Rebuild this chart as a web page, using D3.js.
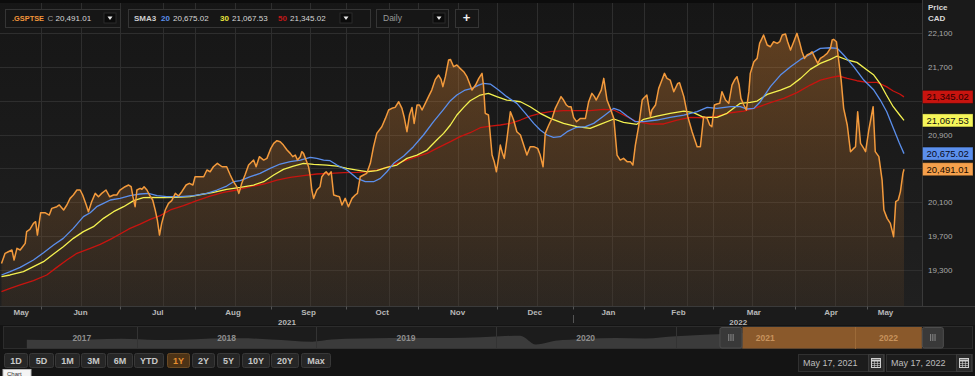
<!DOCTYPE html>
<html><head><meta charset="utf-8">
<script src="https://cdn.jsdelivr.net/npm/d3@7"></script>
<style>html,body{margin:0;padding:0;background:#000;overflow:hidden}svg{display:block;font-family:Arial,"Liberation Sans",sans-serif}</style>
</head><body><svg id="c" width="975" height="376"></svg>
<script>
// ---- DATA (x = trading-day index from May 14, 2021) ----
const closeSeries = [[0,19378],[1.0,19497],[1.9,19516],[2.9,19536],[3.5,19418],[4.3,19556],[5.2,19536],[5.9,19575],[6.6,19615],[7.0,19753],[7.9,19780],[8.9,19851],[9.5,19871],[10.0,19713],[10.9,19977],[12.1,19977],[13.3,19949],[14.0,20028],[15.4,20048],[16.1,20068],[17.3,20009],[18.2,20068],[19.1,20146],[20.0,20186],[21.0,20245],[21.9,20245],[22.6,20186],[23.6,20068],[24.2,19989],[25.1,20107],[26.1,20205],[27.0,20166],[27.9,20205],[29.1,20245],[30.1,20166],[31.2,20186],[32.1,20186],[33.0,20245],[34.4,20284],[35.4,20304],[36.1,20284],[36.6,20166],[37.2,20048],[37.7,20245],[38.6,20265],[39.1,20253],[39.7,20284],[40.5,20245],[41.2,20186],[42.1,20127],[42.8,20009],[43.4,19890],[44.0,19713],[44.6,19851],[45.6,20009],[46.5,20087],[47.4,20119],[48.4,20205],[49.3,20174],[50.2,20225],[51.4,20304],[52.3,20324],[53.3,20304],[53.9,20402],[55.1,20402],[56.3,20402],[57.2,20481],[58.1,20461],[59.0,20520],[60.1,20560],[61.4,20520],[62.7,20520],[63.7,20422],[64.6,20343],[65.5,20284],[66.1,20205],[66.9,20324],[67.8,20422],[68.8,20540],[70.2,20599],[70.9,20520],[71.8,20639],[73.0,20599],[73.9,20619],[75.0,20737],[75.8,20796],[76.7,20828],[77.6,20816],[78.5,20776],[79.5,20717],[80.4,20678],[81.1,20639],[81.8,20658],[82.4,20599],[83.2,20639],[83.6,20698],[84.1,20678],[84.8,20599],[85.5,20520],[86.0,20402],[86.4,20245],[86.9,20146],[87.8,20245],[88.7,20284],[89.2,20402],[89.9,20442],[90.4,20461],[91.1,20422],[91.8,20461],[92.5,20186],[93.4,20174],[94.1,20166],[94.8,20068],[95.7,20146],[96.6,20048],[97.6,20146],[98.5,20186],[99.1,20205],[99.9,20402],[100.8,20422],[101.7,20442],[102.7,20560],[103.6,20757],[104.5,20914],[105.9,20993],[106.9,21091],[107.8,21190],[108.7,21210],[109.6,21221],[110.6,21288],[111.5,21210],[112.1,21111],[112.9,20934],[113.6,21131],[114.3,21221],[114.9,21032],[115.7,21249],[116.4,21249],[117.1,21190],[118.0,21269],[118.9,21348],[119.8,21426],[120.8,21552],[121.7,21603],[122.4,21552],[122.9,21466],[123.6,21584],[124.5,21781],[125.0,21788],[125.9,21702],[126.8,21722],[127.7,21682],[128.7,21643],[129.6,21584],[130.5,21485],[131.0,21426],[132.0,21485],[132.9,21564],[133.8,21623],[134.2,21485],[134.7,21151],[135.6,21131],[136.6,20658],[137.2,20580],[137.8,20461],[138.4,20619],[138.9,20776],[139.5,20678],[140.0,20619],[140.7,20835],[141.7,21170],[142.6,21072],[143.5,20934],[144.5,20895],[145.4,20776],[146.3,20658],[147.2,20757],[148.2,20757],[149.3,20737],[150.0,20658],[150.8,20520],[151.4,20914],[152.4,21013],[153.3,21091],[154.2,21210],[155.1,21288],[155.8,21348],[156.5,21308],[157.3,21249],[157.9,21229],[158.6,21229],[159.3,21103],[160.1,21052],[161.2,21091],[162.6,21091],[163.5,21288],[164.4,21387],[165.1,21348],[165.6,21308],[166.3,21367],[167.0,21426],[167.7,21564],[168.6,21308],[169.5,21210],[170.5,21091],[171.4,20658],[172.3,20599],[173.2,20619],[174.2,20580],[175.1,20580],[175.8,20540],[176.5,20776],[177.4,20993],[178.4,21308],[178.8,21328],[179.7,21367],[180.7,21111],[181.1,21190],[182.1,21249],[183.0,21446],[183.9,21544],[184.6,21623],[185.3,21564],[186.2,21544],[187.2,21407],[188.3,21505],[188.8,21513],[190.0,21348],[191.1,21111],[192.3,20934],[193.7,20757],[194.6,20757],[195.5,21111],[196.5,21091],[197.2,21013],[197.8,20993],[198.5,21249],[199.2,21261],[200.0,21269],[200.6,21407],[201.6,21308],[202.5,21269],[203.4,21485],[204.1,21544],[204.8,21584],[205.4,21485],[205.9,21328],[206.7,21249],[207.4,21190],[208.1,21407],[208.5,21623],[209.5,21761],[210.4,21800],[211.1,21978],[212.2,22076],[213.2,21958],[214.1,21938],[215.0,21997],[216.0,21978],[216.7,21997],[217.4,22076],[218.3,22088],[218.9,21997],[219.7,21899],[220.6,21997],[221.5,22096],[222.3,21978],[222.9,21879],[223.6,21800],[224.3,21840],[225.2,21859],[225.7,21879],[226.6,21800],[227.3,21741],[228.0,21800],[229.0,21828],[229.9,21859],[230.8,21919],[231.3,22017],[231.7,22025],[232.5,21997],[233.1,21781],[233.8,21544],[234.5,21210],[235.5,21013],[236.4,20698],[237.3,20737],[237.8,20757],[238.4,21170],[239.2,20796],[240.1,20737],[240.6,20698],[241.5,20954],[242.7,21229],[243.3,20698],[244.3,20639],[245.2,20363],[245.7,20009],[246.6,19910],[247.5,19851],[248.4,19694],[249.0,20107],[249.7,20127],[250.3,20226],[251.0,20442],[251.3,20491.01]];

const sma20Series = [[0,19241],[2.4,19280],[5.2,19331],[8.9,19418],[11.7,19504],[14.5,19595],[17.2,19674],[20.0,19792],[22.8,19930],[24.7,19977],[26.5,20048],[28.4,20087],[30.3,20127],[33.0,20146],[35.8,20178],[38.6,20198],[40.9,20205],[43.3,20178],[46.0,20166],[49.7,20166],[53.5,20178],[57.2,20205],[60.0,20245],[62.7,20292],[64.6,20343],[66.5,20355],[69.3,20402],[72.0,20442],[74.8,20501],[77.6,20552],[80.4,20580],[83.2,20599],[86.0,20631],[87.8,20619],[89.7,20599],[91.5,20591],[93.4,20540],[96.2,20481],[99.0,20383],[101.3,20343],[103.6,20343],[105.5,20383],[107.3,20461],[109.2,20560],[112.0,20647],[114.7,20757],[117.5,20895],[120.3,21052],[123.1,21198],[125.0,21300],[126.8,21367],[129.1,21426],[131.0,21446],[132.9,21485],[134.2,21505],[136.1,21497],[138.4,21426],[140.7,21348],[143.5,21269],[145.9,21151],[148.2,21032],[150.0,20954],[151.9,20895],[153.7,20867],[155.6,20875],[157.5,20934],[159.8,20981],[162.6,20993],[164.9,21032],[167.7,21119],[170.5,21210],[172.3,21182],[174.2,21119],[176.5,21052],[178.8,21052],[182.5,21072],[186.2,21103],[190.0,21131],[193.7,21170],[196.5,21221],[199.2,21210],[203.0,21229],[205.7,21229],[207.6,21202],[209.5,21210],[211.3,21288],[214.1,21466],[216.9,21603],[219.7,21702],[222.5,21788],[225.2,21851],[228.0,21919],[230.8,21926],[232.7,21919],[234.5,21840],[237.3,21702],[240.1,21544],[242.9,21426],[244.7,21308],[246.5,21170],[248.4,20970],[250.0,20800],[251.3,20675.02]];

const sma30Series = [[0,19221],[2.4,19241],[6.1,19280],[8.9,19339],[11.7,19398],[14.5,19489],[17.2,19575],[20.0,19674],[22.8,19753],[25.6,19812],[28.4,19910],[31.2,19989],[34.0,20048],[36.8,20119],[39.5,20154],[42.3,20158],[45.1,20154],[48.8,20158],[52.5,20166],[56.3,20198],[59.0,20217],[62.7,20253],[66.5,20276],[70.2,20304],[73.0,20343],[75.8,20422],[78.5,20489],[81.3,20528],[84.1,20560],[86.9,20548],[90.6,20540],[93.4,20528],[96.2,20501],[99.0,20481],[101.7,20461],[104.5,20473],[107.3,20513],[110.1,20540],[112.9,20619],[115.7,20658],[118.5,20717],[121.2,20835],[123.1,20914],[125.0,21013],[126.8,21131],[128.7,21221],[130.5,21300],[133.3,21367],[135.6,21387],[137.9,21348],[140.7,21308],[144.5,21288],[147.2,21229],[150.0,21151],[152.8,21091],[156.5,21032],[160.2,20993],[163.9,20973],[166.7,21021],[170.5,21084],[173.2,21044],[176.9,21021],[178.8,21080],[182.5,21119],[186.2,21151],[190.0,21178],[192.7,21159],[195.5,21103],[199.2,21103],[202.0,21151],[205.7,21269],[208.5,21280],[210.4,21296],[213.2,21375],[216.9,21426],[219.7,21473],[222.5,21564],[225.2,21670],[228.0,21741],[230.8,21788],[232.7,21828],[235.5,21781],[238.2,21753],[241.0,21662],[242.9,21603],[244.6,21506],[246.4,21367],[248.3,21229],[250.1,21131],[251.3,21067.53]];

const sma50Series = [[0,19044],[2.4,19083],[5.2,19123],[8.9,19174],[12.6,19241],[15.4,19331],[18.2,19418],[21.0,19497],[24.7,19556],[27.5,19603],[30.3,19662],[33.0,19725],[35.8,19792],[38.6,19843],[41.4,19898],[44.2,19942],[47.0,20009],[50.7,20060],[54.4,20119],[58.1,20174],[61.8,20217],[65.5,20245],[69.3,20284],[73.0,20316],[76.7,20363],[80.4,20394],[84.1,20414],[87.8,20434],[91.5,20442],[95.3,20450],[99.0,20454],[101.7,20461],[104.5,20481],[107.3,20513],[110.1,20560],[112.9,20599],[115.7,20639],[118.5,20678],[121.2,20737],[125.0,20816],[127.7,20875],[130.5,20922],[133.3,20981],[136.1,21001],[138.9,21013],[141.7,21032],[144.5,21072],[147.2,21119],[150.0,21151],[152.8,21170],[156.5,21182],[160.2,21182],[163.9,21182],[167.7,21198],[170.5,21190],[173.2,21131],[176.9,21052],[180.7,21025],[184.4,21025],[188.1,21072],[191.8,21103],[195.5,21099],[199.2,21119],[203.0,21158],[206.7,21178],[210.4,21221],[214.1,21277],[217.8,21328],[221.5,21395],[225.2,21485],[228.0,21544],[230.8,21572],[233.1,21592],[235.5,21564],[238.2,21536],[241.0,21517],[243.8,21517],[246.4,21466],[248.3,21415],[250.1,21379],[251.3,21345.02]];

const lastClose = 20491.01, lastSma20 = 20675.02, lastSma30 = 21067.53, lastSma50 = 21345.02;
const yTicks = [19300, 19700, 20100, 20500, 20900, 21300, 21700, 22100];
const monthLabels = ["May","Jun","Jul","Aug","Sep","Oct","Nov","Dec","Jan","Feb","Mar","Apr","May"];
const monthStartDays = [0, 11, 33, 54, 75, 96, 116, 138, 159, 179, 198, 221, 241];
const midMonthDays = [22, 45, 65, 86, 108, 127, 149, 170, 191, 209, 232];
const lastDay = 251.3;
const yearLabels = ["2021", "2022"];
const yearStartDays = [0, 159];

const navDates = ["2017-05-22","2017-08-01","2017-10-01","2017-12-01","2018-02-10","2018-04-01","2018-06-01","2018-08-01","2018-10-01","2018-12-24","2019-02-01","2019-04-01","2019-06-01","2019-08-01","2019-10-01","2019-12-01","2020-02-20","2020-03-23","2020-05-01","2020-07-01","2020-09-01","2020-11-01","2021-01-01","2021-03-01","2021-05-17","2021-08-01","2021-11-01","2022-01-01","2022-03-29","2022-05-17"];
const navValues = [15400,15200,15600,16000,15300,15400,16100,16300,15600,14300,15500,16100,16400,16400,16500,16900,17800,12600,14800,15900,16400,16200,17500,18300,19400,20300,21200,21000,22000,20400];
const navYears = ["2017","2018","2019","2020","2021","2022"];
const rangeButtons = ["1D","5D","1M","3M","6M","YTD","1Y","2Y","5Y","10Y","20Y","Max"];
const activeRange = "1Y";
const rangeFrom = "May 17, 2021", rangeTo = "May 17, 2022";

// ---- RENDER ----
const C = {close:"#f39a3c", sma20:"#5b8fec", sma30:"#f4f250", sma50:"#c8140f"};
const svg = d3.select("#c");
const W = 975, H = 376;
const plotL = 1.5, plotR = 922, plotB = 306.5;
const x = d3.scaleLinear().domain([0, lastDay]).range([plotL, 904]);
const y = d3.scaleLinear().domain([19300, 22100]).range([270, 33]);

const defs = svg.append("defs");
const bg = defs.append("linearGradient").attr("id","bg").attr("x1",0).attr("x2",0).attr("y1",0).attr("y2",1);
bg.append("stop").attr("offset","0").attr("stop-color","#161616");
bg.append("stop").attr("offset","1").attr("stop-color","#202020");
const ag = defs.append("linearGradient").attr("id","ag").attr("gradientUnits","userSpaceOnUse").attr("x1",0).attr("x2",0).attr("y1",33).attr("y2",plotB);
ag.append("stop").attr("offset","0").attr("stop-color","rgb(235,140,50)").attr("stop-opacity",0.34);
ag.append("stop").attr("offset","1").attr("stop-color","rgb(235,140,50)").attr("stop-opacity",0.06);

svg.append("rect").attr("width",W).attr("height",H).attr("fill","#121212");
svg.append("rect").attr("x",0).attr("y",0).attr("width",plotR).attr("height",plotB).attr("fill","url(#bg)");
svg.append("rect").attr("x",plotR).attr("y",0).attr("width",W-plotR).attr("height",plotB).attr("fill","#1a1a1a");

// gridlines
const grid = svg.append("g").attr("stroke","#2e2e2e").attr("stroke-width",1);
monthStartDays.slice(1).concat(midMonthDays).forEach(d=>{
  const xx = Math.round(x(d))+0.5;
  grid.append("line").attr("x1",xx).attr("x2",xx).attr("y1",0).attr("y2",plotB);
});
yTicks.forEach(v=>{
  const yy = Math.round(y(v))+0.5;
  grid.append("line").attr("x1",0).attr("x2",plotR).attr("y1",yy).attr("y2",yy);
});
svg.append("line").attr("x1",plotR+0.5).attr("x2",plotR+0.5).attr("y1",0).attr("y2",plotB).attr("stroke","#3a3a3a");

// area + lines
const area = d3.area().x(d=>x(d[0])).y0(plotB).y1(d=>y(d[1]));
svg.append("path").datum(closeSeries).attr("d",area).attr("fill","url(#ag)");
const line = d3.line().x(d=>x(d[0])).y(d=>y(d[1]));
[[sma50Series,C.sma50],[sma30Series,C.sma30],[sma20Series,C.sma20]].forEach(([s,c])=>{
  svg.append("path").datum(s).attr("d",line).attr("fill","none").attr("stroke",c).attr("stroke-width",1.3).attr("stroke-linejoin","round");
});
svg.append("path").datum(closeSeries).attr("d",line).attr("fill","none").attr("stroke",C.close).attr("stroke-width",1.5).attr("stroke-linejoin","round");

// right axis (tick labels hidden where a last-value box covers them)
const fmt = d3.format(",");
const fmt2 = d3.format(",.2f");
const lastVals = [lastSma50, lastSma30, lastSma20, lastClose];
const ax = svg.append("g").attr("font-size","8px").attr("fill","#a8a8a8");
yTicks.filter(v=>lastVals.every(l=>Math.abs(y(l)-y(v))>9)).forEach(v=>{
  ax.append("text").attr("x",928).attr("y",y(v)+3).text(fmt(v));
});
svg.append("text").attr("x",928).attr("y",10).attr("font-size","8px").attr("font-weight","bold").attr("fill","#d8d8d8").text("Price");
svg.append("text").attr("x",928).attr("y",21).attr("font-size","8px").attr("font-weight","bold").attr("fill","#d8d8d8").text("CAD");
[[lastSma50,C.sma50,"#2a0000"],[lastSma30,"#f6f65a","#111"],[lastSma20,C.sma20,"#0a0a20"],[lastClose,"#f5a04c","#1a0d00"]].forEach(([v,c,tc])=>{
  const yy = y(v);
  svg.append("rect").attr("x",922.5).attr("y",yy-6.5).attr("width",50.5).attr("height",13).attr("fill",c).attr("stroke","#000").attr("stroke-opacity",0.3);
  svg.append("text").attr("x",926.5).attr("y",yy+3.5).attr("font-size","9.5px").attr("fill",tc).text(fmt2(v));
});

// x axis band
svg.append("rect").attr("x",0).attr("y",plotB).attr("width",W).attr("height",19).attr("fill","#1b1b1b");
svg.append("line").attr("x1",0).attr("x2",W).attr("y1",plotB).attr("y2",plotB).attr("stroke","#3a3a3a");
const xa = svg.append("g").attr("font-size","8px").attr("font-weight","bold").attr("fill","#b8b8b8").attr("text-anchor","middle");
monthLabels.forEach((m,i)=>{
  const a = monthStartDays[i], b = i+1<monthStartDays.length ? monthStartDays[i+1] : lastDay;
  xa.append("text").attr("x",(x(a)+x(b))/2).attr("y",315).text(m);
  if(i>0){ const xx=Math.round(x(a))+0.5; svg.append("line").attr("x1",xx).attr("x2",xx).attr("y1",plotB).attr("y2",plotB+3).attr("stroke","#555"); }
});
yearLabels.forEach((yl,i)=>{
  const a = yearStartDays[i], b = i+1<yearStartDays.length ? yearStartDays[i+1] : lastDay;
  xa.append("text").attr("x",(x(a)+x(b))/2).attr("y",325).text(yl);
  if(i>0){ const xx=Math.round(x(a))+0.5; svg.append("line").attr("x1",xx).attr("x2",xx).attr("y1",315).attr("y2",323).attr("stroke","#555"); }
});

// navigator
const nY0 = 326, nY1 = 349;
svg.append("rect").attr("x",0).attr("y",nY0-1).attr("width",W).attr("height",nY1-nY0+2).attr("fill","#141414");
svg.append("rect").attr("x",3.5).attr("y",nY0+0.5).attr("width",969).attr("height",nY1-nY0-1).attr("fill","#1c1c1c").attr("stroke","#2c2c2c");
const parse = d3.utcParse("%Y-%m-%d");
const nx = d3.scaleUtc().domain([parse("2017-01-01"), parse("2022-01-01")]).range([-42.5, 855]);
const ny = d3.scaleLinear().domain([10000, 22000]).range([nY1, 328.5]);
const navData = navDates.map((d,i)=>[parse(d), navValues[i]]);
const nArea = d3.area().x(d=>nx(d[0])).y0(nY1-0.5).y1(d=>ny(d[1])).curve(d3.curveMonotoneX);
svg.append("path").datum(navData).attr("d",nArea).attr("fill","#3b3b3b");
const selX0 = nx(parse("2021-05-17")), selX1 = nx(parse("2022-05-17"));
svg.append("rect").attr("x",selX0).attr("y",nY0+1).attr("width",selX1-selX0).attr("height",nY1-nY0-1.5).attr("fill","#8a592b");
navYears.forEach((yr,i)=>{
  const a = Math.max(nx(parse(yr+"-01-01")), nx(navData[0][0]));
  const b = Math.min(nx(parse((+yr+1)+"-01-01")), selX1);
  const xs = nx(parse(yr+"-01-01"));
  const inSel = xs>selX0 && xs<selX1;
  if(i>0){ const xx=Math.round(xs)+0.5; svg.append("line").attr("x1",xx).attr("x2",xx).attr("y1",nY0+1).attr("y2",nY1).attr("stroke", inSel ? "#9c6a38" : "#333"); }
  svg.append("text").attr("x",(a+b)/2).attr("y",340.5).attr("text-anchor","middle").attr("font-size","8.5px").attr("font-weight","bold")
    .attr("fill", +yr>=2021 ? "#c7935d" : "#8e8e8e").text(yr);
});
[[selX0-23,selX0],[selX1,selX1+22]].forEach(([a,b])=>{
  svg.append("rect").attr("x",a+0.5).attr("y",nY0+1.5).attr("width",b-a-1).attr("height",nY1-nY0-2.5).attr("rx",2).attr("fill","#393939").attr("stroke","#4d4d4d");
  for(let k=-1;k<=1;k++){ const xx=(a+b)/2+k*2.2; svg.append("line").attr("x1",xx).attr("x2",xx).attr("y1",334).attr("y2",341).attr("stroke","#8a8a8a"); }
});

// bottom controls
svg.append("rect").attr("x",0).attr("y",350).attr("width",W).attr("height",26).attr("fill","#141414");
const btnX = [4,29,55,81,107,134,167,192,217,242,271,301];
const btnW = [23,24,24,24,25,29,22,22,22,27,27,29];
rangeButtons.forEach((b,i)=>{
  const act = b===activeRange;
  svg.append("rect").attr("x",btnX[i]+0.5).attr("y",353.5).attr("width",btnW[i]).attr("height",14).attr("rx",2)
    .attr("fill", act ? "#4d3316" : "#262626").attr("stroke", act ? "#6a4a25" : "#383838");
  svg.append("text").attr("x",btnX[i]+0.5+btnW[i]/2).attr("y",363.8).attr("text-anchor","middle").attr("font-size","9px").attr("font-weight","bold")
    .attr("fill", act ? "#e8902f" : "#c8c8c8").text(b);
});
function calIcon(x0){
  svg.append("rect").attr("x",x0+0.5).attr("y",354.5).attr("width",15).attr("height",17).attr("fill","#2a2a2a").attr("stroke","#3a3a3a");
  svg.append("rect").attr("x",x0+3.5).attr("y",358.5).attr("width",9).attr("height",9).attr("fill","none").attr("stroke","#cfcfcf");
  svg.append("line").attr("x1",x0+3.5).attr("x2",x0+12.5).attr("y1",360.5).attr("y2",360.5).attr("stroke","#cfcfcf").attr("stroke-width",2);
  [6.5,9.5].forEach(dx=>svg.append("line").attr("x1",x0+dx).attr("x2",x0+dx).attr("y1",361).attr("y2",367.5).attr("stroke","#cfcfcf").attr("stroke-width",0.6));
  [363.5,365.5].forEach(dy=>svg.append("line").attr("x1",x0+3.5).attr("x2",x0+12.5).attr("y1",dy).attr("y2",dy).attr("stroke","#cfcfcf").attr("stroke-width",0.6));
}
[[798,rangeFrom],[886,rangeTo]].forEach(([x0,t])=>{
  svg.append("rect").attr("x",x0+0.5).attr("y",354.5).attr("width",86).attr("height",17).attr("fill","#1c1c1c").attr("stroke","#303030");
  svg.append("text").attr("x",x0+5).attr("y",366).attr("font-size","9px").attr("fill","#bdbdbd").text(t);
  calIcon(x0+70);
});
svg.append("rect").attr("x",3).attr("y",369.5).attr("width",28).attr("height",8).attr("fill","#f4f4f4").attr("stroke","#bbb");
svg.append("text").attr("x",7).attr("y",375.8).attr("font-size","6px").attr("fill","#333").text("Chart");

// header
svg.append("rect").attr("x",0).attr("y",0).attr("width",plotR).attr("height",3).attr("fill","#0c0c0c");
function box(x0,x1){ svg.append("rect").attr("x",x0+0.5).attr("y",9.5).attr("width",x1-x0).attr("height",18).attr("fill","#161616").attr("stroke","#353535"); }
function dd(x0){
  svg.append("rect").attr("x",x0).attr("y",13).attr("width",12).attr("height",10).attr("fill","#0b0b0b").attr("stroke","#2a2a2a");
  svg.append("path").attr("d",`M${x0+3.5},16.5 L${x0+8.5},16.5 L${x0+6},20 Z`).attr("fill","#e8e8e8");
}
box(5,120); box(128,370); box(376,448); box(455,478);
const hd = svg.append("g").attr("font-size","8px");
hd.append("text").attr("x",12).attr("y",20.8).attr("font-weight","bold").attr("fill","#f2953a").attr("textLength",32).attr("lengthAdjust","spacingAndGlyphs").text(".GSPTSE");
hd.append("text").attr("x",47.5).attr("y",20.8).attr("fill","#9a9a9a").text("C");
hd.append("text").attr("x",55.5).attr("y",20.8).attr("fill","#d6d6d6").text(fmt2(lastClose));
dd(104);
hd.append("text").attr("x",134).attr("y",20.8).attr("font-weight","bold").attr("fill","#cfcfcf").text("SMA3");
hd.append("text").attr("x",161).attr("y",20.8).attr("font-weight","bold").attr("fill",C.sma20).text("20");
hd.append("text").attr("x",173).attr("y",20.8).attr("fill","#d6d6d6").text(fmt2(lastSma20));
hd.append("text").attr("x",220).attr("y",20.8).attr("font-weight","bold").attr("fill","#e6e43c").text("30");
hd.append("text").attr("x",232).attr("y",20.8).attr("fill","#d6d6d6").text(fmt2(lastSma30));
hd.append("text").attr("x",278).attr("y",20.8).attr("font-weight","bold").attr("fill","#c01818").text("50");
hd.append("text").attr("x",290).attr("y",20.8).attr("fill","#d6d6d6").text(fmt2(lastSma50));
dd(340);
hd.append("text").attr("x",383).attr("y",20.8).attr("fill","#9a9a9a").attr("font-size","8.5px").text("Daily");
dd(433);
svg.append("text").attr("x",466.5).attr("y",22).attr("text-anchor","middle").attr("font-size","13px").attr("font-weight","bold").attr("fill","#f0f0f0").text("+");
</script></body></html>
